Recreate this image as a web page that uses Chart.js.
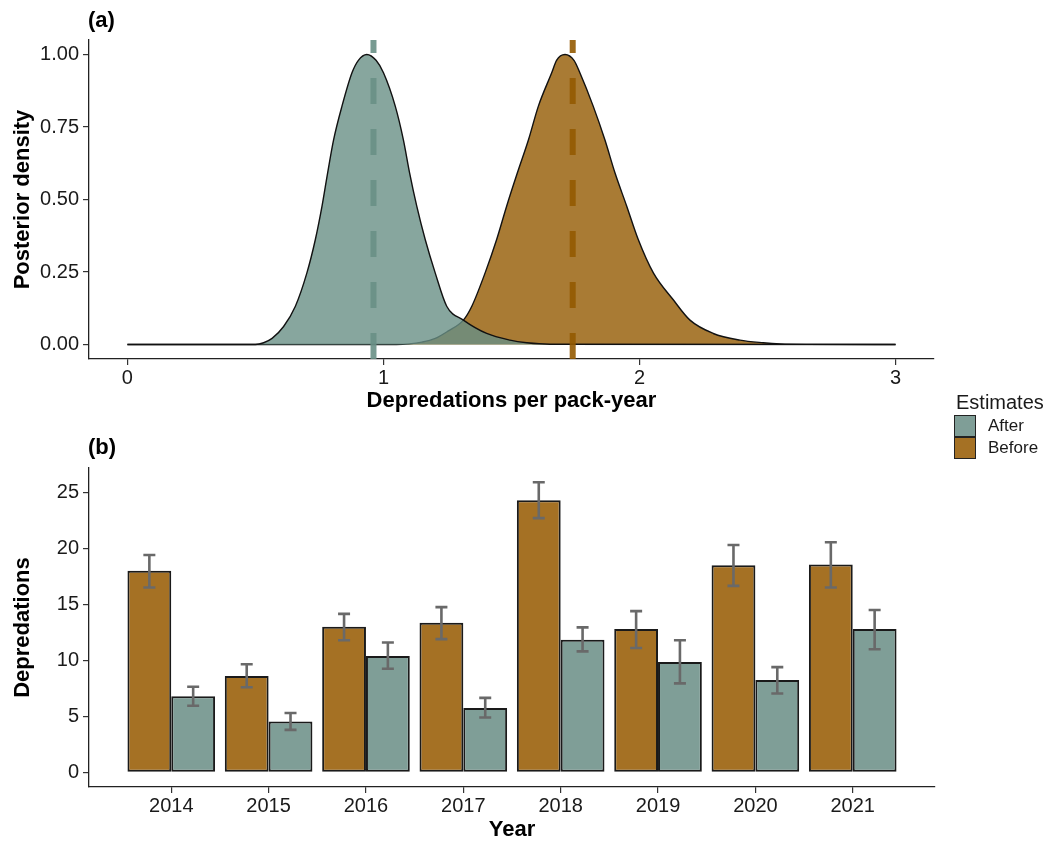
<!DOCTYPE html>
<html>
<head>
<meta charset="utf-8">
<script src="https://cdn.jsdelivr.net/npm/chart.js@4"></script>
<style>
  body { margin: 0; background: #fff; font-family: "Liberation Sans", Arial, sans-serif; }
  #wrap { position: relative; width: 1051px; height: 843px; }
  canvas { position: absolute; left: 0; }
  .tag { position: absolute; left: 88px; font-weight: bold; font-size: 22px; line-height: 26px; color: #000; }
  #legend { position: absolute; left: 954px; top: 389px; color: #1a1a1a; }
  #legend .ttl { font-size: 20px; line-height: 26px; margin-left: 2px; }
  #legend .row { display: flex; align-items: center; height: 22px; font-size: 17px; }
  #legend .key { width: 20px; height: 20px; border: 1px solid #222; margin-right: 12px; }
</style>
</head>
<body>
<div id="wrap">
  <canvas id="density" width="1051" height="420" style="top:0"></canvas>
  <canvas id="bars" width="1051" height="423" style="top:420px"></canvas>
  <div class="tag" style="top:7px">(a)</div>
  <div class="tag" style="top:434px">(b)</div>
  <div id="legend">
    <div class="ttl">Estimates</div>
    <div class="row"><div class="key" style="background:#7f9e97"></div>After</div>
    <div class="row"><div class="key" style="background:#a57124"></div>Before</div>
  </div>
</div>
<script>
// panel (a): posterior density curves (scaled to max 1)
var afterX = [0, 0.5, 0.532, 0.565, 0.61, 0.656, 0.701, 0.734, 0.76, 0.782, 0.805, 0.838, 0.877, 0.902, 0.935, 0.971, 1.0, 1.046, 1.078, 1.102, 1.13, 1.163, 1.202, 1.247, 1.312, 1.403, 1.494, 1.56, 1.65, 3];
var afterY = [0, 0, 0.006, 0.021, 0.062, 0.132, 0.247, 0.362, 0.477, 0.592, 0.705, 0.822, 0.937, 0.98, 1.0, 0.98, 0.937, 0.822, 0.705, 0.592, 0.477, 0.362, 0.247, 0.132, 0.084, 0.038, 0.015, 0.006, 0.001, 0];
var beforeX = [0, 1.05, 1.1, 1.15, 1.2, 1.25, 1.312, 1.345, 1.397, 1.442, 1.481, 1.523, 1.566, 1.605, 1.657, 1.676, 1.709, 1.744, 1.767, 1.819, 1.865, 1.904, 1.95, 1.995, 2.054, 2.131, 2.197, 2.288, 2.392, 2.483, 2.55, 2.65, 3];
var beforeY = [0, 0, 0.002, 0.008, 0.02, 0.045, 0.084, 0.132, 0.247, 0.362, 0.477, 0.592, 0.705, 0.822, 0.937, 0.98, 1.0, 0.98, 0.937, 0.822, 0.705, 0.592, 0.477, 0.362, 0.247, 0.155, 0.084, 0.038, 0.015, 0.006, 0.002, 0.0005, 0];
var densityMeans = [0.961, 1.739]; // After, Before
var densityXTicks = [0, 1, 2, 3];
var densityYTicks = [0, 0.25, 0.5, 0.75, 1];

// panel (b): depredations per year
var years = [2014, 2015, 2016, 2017, 2018, 2019, 2020, 2021];
var beforeMean = [18.0, 8.6, 13.0, 13.35, 24.3, 12.8, 18.5, 18.55];
var beforeLow  = [16.5, 7.6, 11.8, 11.9, 22.7, 11.1, 16.65, 16.5];
var beforeHigh = [19.4, 9.65, 14.15, 14.75, 25.9, 14.4, 20.3, 20.55];
var afterMean  = [6.8, 4.55, 10.4, 5.75, 11.85, 9.85, 8.25, 12.8];
var afterLow   = [5.95, 3.8, 9.25, 4.9, 10.8, 7.95, 7.05, 11.0];
var afterHigh  = [7.65, 5.3, 11.6, 6.65, 12.95, 11.8, 9.4, 14.5];
var barYTicks = [0, 5, 10, 15, 20, 25];

var FONT = '"Liberation Sans", Arial, sans-serif';
var tealFill = 'rgba(105,144,134,0.8)';
var brownFill = 'rgba(148,90,1,0.8)';

function zip(xs, ys) {
  return xs.map(function (x, i) { return { x: x, y: ys[i] }; });
}

function axis(opts) {
  return {
    type: 'linear',
    min: opts.min,
    max: opts.max,
    offset: false,
    border: { display: true, color: '#222', width: 1.3 },
    grid: { display: true, offset: false, drawOnChartArea: false, drawTicks: true, tickLength: 6, color: '#333', lineWidth: 1.2 },
    ticks: {
      color: '#1a1a1a', padding: opts.tickPad, font: { family: FONT, size: 20 },
      callback: opts.format
    },
    title: {
      display: true, text: opts.title, color: '#000',
      font: { family: FONT, size: 22, weight: 'bold' },
      padding: opts.titlePad
    },
    afterBuildTicks: function (s) { s.ticks = opts.ticks.map(function (v) { return { value: v }; }); },
    afterFit: function (s) { if (opts.width) s.width = opts.width; if (opts.height) s.height = opts.height; }
  };
}

new Chart(document.getElementById('density'), {
  type: 'line',
  data: {
    datasets: [
      {
        data: [{ x: densityMeans[0], y: -0.05 }, { x: densityMeans[0], y: 1.05 }],
        borderColor: 'rgba(105,144,134,0.9)', borderWidth: 6, borderDash: [26, 25],
        pointRadius: 0, fill: false, tension: 0
      },
      {
        data: [{ x: densityMeans[1], y: -0.05 }, { x: densityMeans[1], y: 1.05 }],
        borderColor: 'rgba(148,90,1,0.9)', borderWidth: 6, borderDash: [26, 25],
        pointRadius: 0, fill: false, tension: 0
      },
      {
        label: 'After', data: zip(afterX, afterY),
        borderColor: '#111', borderWidth: 1.4, backgroundColor: tealFill,
        fill: 'origin', pointRadius: 0, cubicInterpolationMode: 'monotone'
      },
      {
        label: 'Before', data: zip(beforeX, beforeY),
        borderColor: '#111', borderWidth: 1.4, backgroundColor: brownFill,
        fill: 'origin', pointRadius: 0, cubicInterpolationMode: 'monotone'
      }
    ]
  },
  options: {
    responsive: false,
    animation: false,
    devicePixelRatio: 1,
    layout: { padding: { top: 40, right: 117, left: 0, bottom: 0 } },
    plugins: { legend: { display: false }, tooltip: { enabled: false } },
    scales: {
      x: axis({ min: -0.15, max: 3.15, ticks: densityXTicks, tickPad: 1, height: 61,
        title: 'Depredations per pack-year', titlePad: { top: 0, bottom: 6 },
        format: function (v) { return String(v); } }),
      y: axis({ min: -0.05, max: 1.05, ticks: densityYTicks, tickPad: 4, width: 89,
        title: 'Posterior density', titlePad: { top: 10, bottom: 0 },
        format: function (v) { return v.toFixed(2); } })
    }
  }
});

var errorBars = {
  id: 'errorBars',
  afterDatasetsDraw: function (chart) {
    var ctx = chart.ctx, y = chart.scales.y;
    var ranges = [[beforeLow, beforeHigh], [afterLow, afterHigh]];
    ctx.save();
    ctx.strokeStyle = '#696969';
    ctx.lineWidth = 2.6;
    chart.data.datasets.forEach(function (ds, di) {
      chart.getDatasetMeta(di).data.forEach(function (bar, i) {
        var lo = y.getPixelForValue(ranges[di][0][i]);
        var hi = y.getPixelForValue(ranges[di][1][i]);
        ctx.beginPath();
        ctx.moveTo(bar.x, lo); ctx.lineTo(bar.x, hi);
        ctx.moveTo(bar.x - 6, lo); ctx.lineTo(bar.x + 6, lo);
        ctx.moveTo(bar.x - 6, hi); ctx.lineTo(bar.x + 6, hi);
        ctx.stroke();
      });
    });
    ctx.restore();
  }
};

new Chart(document.getElementById('bars'), {
  type: 'bar',
  data: {
    datasets: [
      { label: 'Before', data: zip(years, beforeMean), backgroundColor: '#a57124' },
      { label: 'After', data: zip(years, afterMean), backgroundColor: '#7f9e97' }
    ]
  },
  options: {
    responsive: false,
    animation: false,
    devicePixelRatio: 1,
    layout: { padding: { top: 48, right: 116, left: 0, bottom: 0 } },
    datasets: {
      bar: {
        categoryPercentage: 0.9, barPercentage: 1.0,
        borderWidth: 2, borderColor: '#1a1a1a', borderSkipped: false
      }
    },
    plugins: { legend: { display: false }, tooltip: { enabled: false } },
    scales: {
      x: axis({ min: 2013.155, max: 2021.845, ticks: years, tickPad: 1, height: 56,
        title: 'Year', titlePad: { top: 0, bottom: 0 },
        format: function (v) { return String(v); } }),
      y: axis({ min: -1.3, max: 27.17, ticks: barYTicks, tickPad: 4, width: 89,
        title: 'Depredations', titlePad: { top: 10, bottom: 0 },
        format: function (v) { return String(v); } })
    }
  },
  plugins: [errorBars]
});
</script>
</body>
</html>
